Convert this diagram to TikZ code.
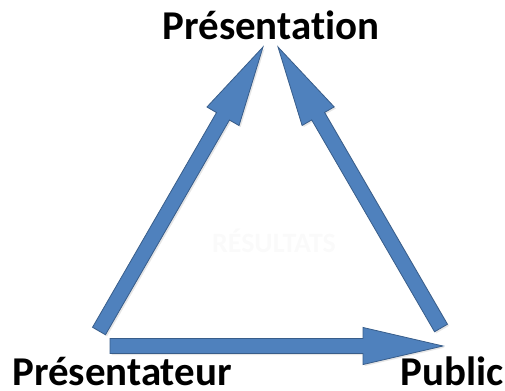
\documentclass[tikz,border=0pt]{standalone}
\usepackage{fontspec}
\setmainfont{Carlito}[Ligatures=NoCommon]
\usepackage{xcolor}
\usetikzlibrary{calc, shadows}

\definecolor{arrowblue}{RGB}{79,129,189}
\definecolor{arrowedge}{RGB}{56,93,138}

% thick block arrow from #1 to #2 (shaft 15px, head 37px x 80px)
\newcommand{\blockarrow}[2]{%
  \draw[bigarrow] ($(#1)!5.6pt!90:(#2)$)
    -- ($(#2)!60pt!(#1)!5.6pt!-90:(#1)$)
    -- ($(#2)!60pt!(#1)!13.9pt!-90:(#1)$)
    -- (#2)
    -- ($(#2)!60pt!(#1)!13.9pt!90:(#1)$)
    -- ($(#2)!60pt!(#1)!5.6pt!90:(#1)$)
    -- ($(#1)!5.6pt!-90:(#2)$) -- cycle;
}

\begin{document}
\begin{tikzpicture}[
    x=0.75pt, y=-0.75pt,
    label/.style={font=\fontsize{30.7}{36}\selectfont\bfseries, inner sep=0pt, text depth=0pt},
    ghost/.style={font=\fontsize{21}{25}\selectfont\bfseries, text=black!2, inner sep=0pt},
    bigarrow/.style={fill=arrowblue, draw=arrowedge, line width=0.6pt, line join=miter,
      drop shadow={opacity=0.2, shadow xshift=1.2pt, shadow yshift=-1.2pt}}
]
\useasboundingbox (0,0) rectangle (505,391);

% Labels
\node[label, anchor=base] (presentation) at (271,40) {Présentation};
\node[label, anchor=base west] (presentateur) at (12,385) {Présentateur};
\node[label, anchor=base east] (public) at (504,385) {Public};
\node[ghost] (resultats) at (274,241) {RÉSULTATS};

% Arrow ends
\coordinate (left-tail) at (99,331);
\coordinate (left-tip) at (263,47);
\coordinate (right-tail) at (441,328);
\coordinate (right-tip) at (278,47);
\coordinate (bottom-tail) at (110,346);
\coordinate (bottom-tip) at (443,346);

% Arrows
\blockarrow{left-tail}{left-tip}
\blockarrow{right-tail}{right-tip}
\blockarrow{bottom-tail}{bottom-tip}

\end{tikzpicture}
\end{document}
